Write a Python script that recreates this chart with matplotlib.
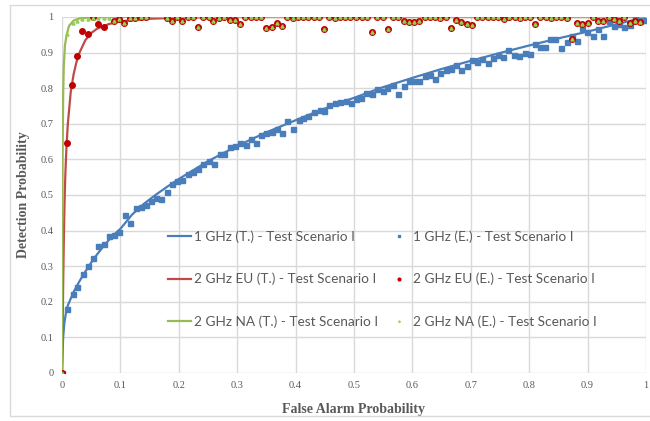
import matplotlib
matplotlib.use("Agg")
import matplotlib.pyplot as plt
from matplotlib.patches import Rectangle

# theoretical curves
blue_t_x = [0, 0.001, 0.002, 0.004, 0.007, 0.01, 0.02, 0.03, 0.04, 0.05, 0.06, 0.07, 0.08, 0.09, 0.10,
            0.12, 0.14, 0.16, 0.18, 0.20, 0.25, 0.30, 0.35, 0.40, 0.45, 0.50, 0.55, 0.60, 0.65, 0.70,
            0.75, 0.80, 0.85, 0.90, 0.95, 1.00]
blue_t_y = [0, 0.06, 0.10, 0.14, 0.172, 0.19, 0.228, 0.258, 0.285, 0.31, 0.333, 0.354, 0.373, 0.39, 0.405,
            0.445, 0.475, 0.50, 0.523, 0.545, 0.595, 0.638, 0.676, 0.71, 0.743, 0.773, 0.803, 0.829, 0.854, 0.877,
            0.899, 0.92, 0.94, 0.959, 0.98, 1.0]

red_t_x = [0, 0.001, 0.002, 0.003, 0.004, 0.005, 0.006, 0.007, 0.008, 0.01, 0.015, 0.02, 0.025, 0.03, 0.04,
           0.05, 0.06, 0.08, 0.10, 0.15, 0.20, 0.30, 1.0]
red_t_y = [0, 0.10, 0.25, 0.36, 0.45, 0.52, 0.57, 0.61, 0.645, 0.70, 0.79, 0.84, 0.875, 0.90, 0.935,
           0.955, 0.967, 0.98, 0.988, 0.995, 0.998, 1.0, 1.0]

green_t_x = [0, 0.0005, 0.001, 0.002, 0.003, 0.005, 0.008, 0.012, 0.02, 0.03, 0.05, 0.1, 1.0]
green_t_y = [0, 0.40, 0.60, 0.78, 0.86, 0.92, 0.95, 0.975, 0.99, 0.996, 0.999, 1.0, 1.0]

# experimental points
blue_e_x = [0.000, 0.009, 0.018, 0.026, 0.036, 0.044, 0.053, 0.062, 0.072, 0.080, 0.089, 0.098, 0.108, 0.116,
            0.126, 0.135, 0.144, 0.152, 0.161, 0.170, 0.179, 0.188, 0.197, 0.206, 0.215, 0.224, 0.233, 0.242,
            0.251, 0.260, 0.270, 0.278, 0.288, 0.296, 0.305, 0.315, 0.324, 0.333, 0.341, 0.350, 0.359, 0.368,
            0.377, 0.386, 0.396, 0.405, 0.413, 0.422, 0.431, 0.441, 0.449, 0.458, 0.467, 0.476, 0.486, 0.495,
            0.503, 0.512, 0.521, 0.530, 0.540, 0.549, 0.557, 0.566, 0.576, 0.585, 0.595, 0.602, 0.612, 0.621,
            0.630, 0.638, 0.647, 0.657, 0.666, 0.675, 0.684, 0.693, 0.702, 0.710, 0.720, 0.729, 0.738, 0.747,
            0.755, 0.764, 0.774, 0.782, 0.792, 0.801, 0.810, 0.818, 0.827, 0.836, 0.845, 0.855, 0.864, 0.873,
            0.882, 0.891, 0.899, 0.909, 0.918, 0.927, 0.936, 0.945, 0.954, 0.963, 0.972, 0.981, 0.990, 0.999]
blue_e_y = [0.000, 0.180, 0.221, 0.241, 0.277, 0.300, 0.324, 0.357, 0.361, 0.385, 0.388, 0.396, 0.445, 0.422,
            0.463, 0.466, 0.471, 0.483, 0.491, 0.489, 0.508, 0.532, 0.539, 0.541, 0.560, 0.566, 0.573, 0.586,
            0.596, 0.586, 0.614, 0.615, 0.636, 0.639, 0.645, 0.640, 0.656, 0.645, 0.668, 0.675, 0.677, 0.684,
            0.673, 0.707, 0.686, 0.711, 0.717, 0.722, 0.732, 0.739, 0.736, 0.753, 0.758, 0.761, 0.763, 0.759,
            0.770, 0.772, 0.787, 0.785, 0.799, 0.792, 0.801, 0.809, 0.785, 0.805, 0.820, 0.820, 0.819, 0.834,
            0.836, 0.827, 0.844, 0.851, 0.854, 0.866, 0.852, 0.863, 0.879, 0.874, 0.881, 0.872, 0.884, 0.893,
            0.887, 0.906, 0.893, 0.890, 0.900, 0.895, 0.923, 0.915, 0.915, 0.937, 0.937, 0.912, 0.931, 0.948,
            0.933, 0.968, 0.957, 0.948, 0.966, 0.948, 0.988, 0.975, 0.980, 0.972, 0.978, 1.000, 0.990, 0.992]

red_e_x = [0.000, 0.008, 0.017, 0.026, 0.035, 0.044, 0.053, 0.062, 0.072, 0.089, 0.098, 0.107, 0.116, 0.125,
           0.135, 0.144, 0.179, 0.188, 0.197, 0.206, 0.215, 0.224, 0.233, 0.242, 0.251, 0.259, 0.268, 0.278,
           0.287, 0.296, 0.305, 0.314, 0.323, 0.332, 0.341, 0.350, 0.359, 0.368, 0.377, 0.386, 0.395, 0.404,
           0.413, 0.422, 0.431, 0.440, 0.449, 0.458, 0.467, 0.476, 0.485, 0.494, 0.504, 0.513, 0.522, 0.531,
           0.540, 0.549, 0.558, 0.567, 0.576, 0.585, 0.594, 0.603, 0.612, 0.621, 0.630, 0.639, 0.648, 0.657,
           0.666, 0.675, 0.684, 0.693, 0.702, 0.711, 0.720, 0.729, 0.738, 0.747, 0.757, 0.766, 0.775, 0.784,
           0.793, 0.802, 0.810, 0.819, 0.828, 0.837, 0.846, 0.855, 0.864, 0.873, 0.882, 0.891, 0.900, 0.909,
           0.918, 0.927, 0.936, 0.945, 0.954, 0.963, 0.972, 0.981, 0.990]
red_e_y = [0.000, 0.647, 0.809, 0.890, 0.961, 0.952, 0.999, 0.980, 0.972, 0.988, 0.993, 0.982, 0.996, 0.998,
           1.000, 1.000, 0.996, 0.988, 1.000, 0.988, 1.000, 1.000, 0.971, 1.000, 1.000, 0.988, 0.996, 1.000,
           0.992, 0.992, 0.980, 1.000, 1.000, 0.999, 1.000, 0.968, 0.973, 0.982, 0.975, 1.000, 0.996, 0.999,
           1.000, 1.000, 1.000, 1.000, 0.965, 1.000, 0.998, 1.000, 1.000, 1.000, 1.000, 1.000, 1.000, 0.959,
           1.000, 1.000, 0.965, 1.000, 0.999, 0.990, 0.987, 0.985, 0.990, 1.000, 1.000, 1.000, 0.998, 1.000,
           0.970, 0.992, 0.987, 0.981, 0.977, 1.000, 1.000, 1.000, 1.000, 1.000, 0.995, 1.000, 1.000, 0.998,
           1.000, 1.000, 0.979, 1.000, 1.000, 0.998, 1.000, 1.000, 0.998, 0.937, 0.982, 0.981, 0.984, 1.000,
           0.990, 0.989, 1.000, 0.995, 0.988, 1.000, 0.982, 0.990, 0.987]

# green points: own values early on, then on top of the red ones
green_head_x = [0.000, 0.008, 0.018, 0.026, 0.035, 0.044, 0.053, 0.062, 0.072, 0.081]
green_head_y = [0.000, 0.951, 0.982, 0.990, 0.994, 0.993, 0.997, 0.996, 0.996, 0.996]
green_e_x = green_head_x + red_e_x[9:]
green_e_y = green_head_y + red_e_y[9:]

labels = ["1 GHz (T.) - Test Scenario I", "2 GHz EU (T.) - Test Scenario I", "2 GHz NA (T.) - Test Scenario I",
          "1 GHz (E.) - Test Scenario I", "2 GHz EU (E.) - Test Scenario I", "2 GHz NA (E.) - Test Scenario I"]

c_blue = "#4a7ebb"
c_red = "#be4b48"
c_green = "#98b954"
c_reddot = "#c00000"
c_greendot = "#92d050"
grey = "#595959"

fig = plt.figure(figsize=(6.5, 4.21), dpi=100)
fig.patches.append(Rectangle((10 / 650, 5 / 421), 0.99, 411 / 421, transform=fig.transFigure,
                             fill=False, edgecolor="#d9d9d9", linewidth=1))
ax = fig.add_axes([62 / 650, 1 - 373 / 421, 584 / 650, 356 / 421])

h1, = ax.plot(blue_t_x, blue_t_y, color=c_blue, lw=1.6, zorder=3)
h2, = ax.plot(red_t_x, red_t_y, color=c_red, lw=1.6, zorder=3)
h3, = ax.plot(green_t_x, green_t_y, color=c_green, lw=1.6, zorder=3)
h4, = ax.plot(blue_e_x, blue_e_y, ls="none", marker="s", ms=3.6, color=c_blue, zorder=4)
h5, = ax.plot(red_e_x, red_e_y, ls="none", marker="o", ms=4.0, color=c_reddot, zorder=4)
h6, = ax.plot(green_e_x, green_e_y, ls="none", marker="^", ms=2.2, color=c_greendot, zorder=5)

ax.set_xlim(0, 1)
ax.set_ylim(0, 1)
ax.set_xticks([i / 10 for i in range(11)])
ax.set_yticks([i / 10 for i in range(11)])
ax.set_xticklabels(["0"] + ["%.1f" % (i / 10) for i in range(1, 10)] + ["1"])
ax.set_yticklabels(["0"] + ["%.1f" % (i / 10) for i in range(1, 10)] + ["1"])
ax.grid(True, color="#d9d9d9", lw=1)
ax.set_axisbelow(True)
for s in ax.spines.values():
    s.set_visible(False)
ax.tick_params(length=0, labelsize=7.5, labelcolor=grey, pad=6)
for t in ax.get_xticklabels() + ax.get_yticklabels():
    t.set_fontfamily("Liberation Serif")

ax.set_xlabel("False Alarm Probability", family="Liberation Serif", fontweight="bold",
              fontsize=10, color=grey, labelpad=9)
ax.set_ylabel("Detection Probability", family="Liberation Serif", fontweight="bold",
              fontsize=10, color=grey, labelpad=8)

leg = ax.legend([h1, h2, h3, h4, h5, h6], labels, ncol=2, loc="upper left",
                bbox_to_anchor=(0.16, 0.435), frameon=False, handlelength=1.7,
                handletextpad=0.2, labelspacing=2.2, columnspacing=0.7,
                prop={"family": "Lato", "size": 9.8}, markerscale=0.5)
for t in leg.get_texts():
    t.set_color(grey)

fig.savefig("out.png", dpi=100)
